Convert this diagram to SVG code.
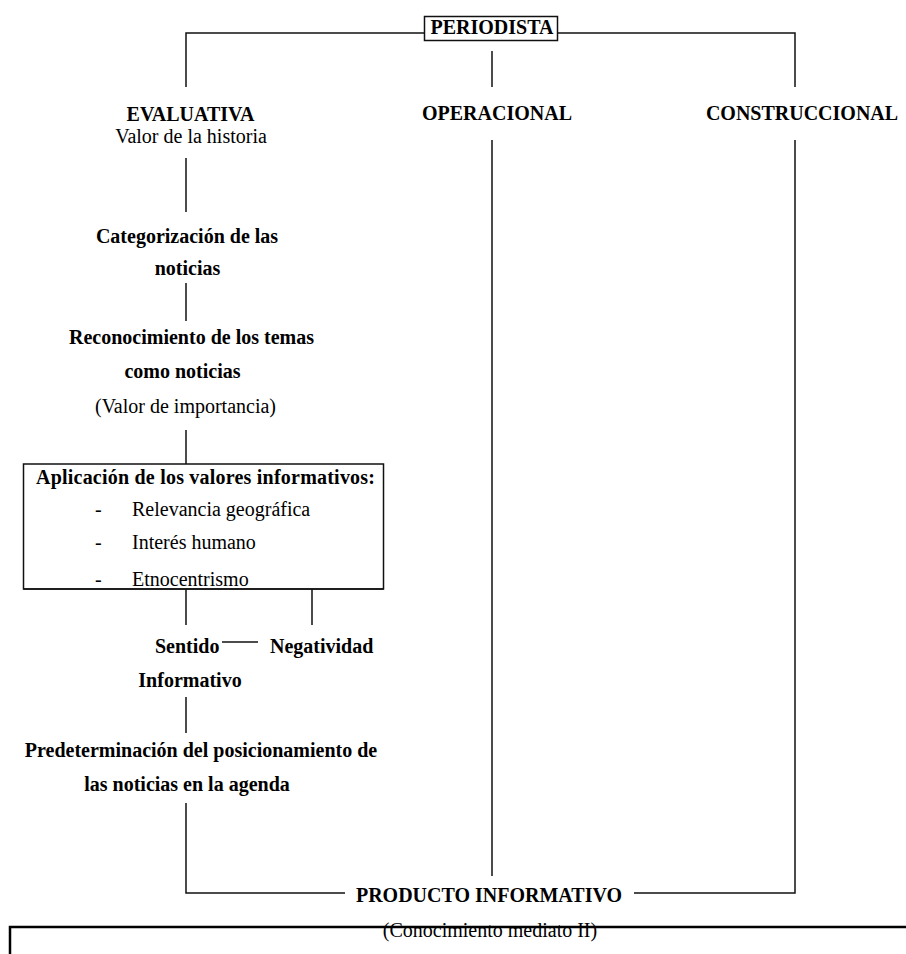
<svg xmlns="http://www.w3.org/2000/svg" width="906" height="954" viewBox="0 0 906 954">
<style>
text{font-family:"Liberation Serif","Times New Roman",serif;font-size:20px;fill:#000}
.b{font-weight:bold}
.m{text-anchor:middle}
.ln{stroke:#111;stroke-width:1.5;fill:none}
.bx{stroke:#111;stroke-width:1.5;fill:#fff}
</style>
<rect width="906" height="954" fill="#fff"/>
<g id="connectors" class="ln">
<path d="M186,87 V33 H424 M557,33 H795 V87"/>
<path d="M492,51 V87"/>
<path d="M186,158 V212"/>
<path d="M186,283 V321"/>
<path d="M186,430 V464"/>
<path d="M186,589 V625 M312,589 V625"/>
<path d="M222,642 H258"/>
<path d="M186,697 V733"/>
<path d="M186,803 V893 H345 M634,893 H795 V140"/>
<path d="M492,140 V876"/>
</g>
<g id="periodista">
<rect class="bx" x="424.5" y="16.5" width="133" height="24"/>
<text class="b m" x="492" y="34">PERIODISTA</text>
</g>
<g id="evaluativa">
<text class="b m" x="190.5" y="121">EVALUATIVA</text>
<text class="m" x="191" y="143">Valor de la historia</text>
</g>
<g id="operacional"><text class="b m" x="497" y="120">OPERACIONAL</text></g>
<g id="construccional"><text class="b m" x="802" y="120">CONSTRUCCIONAL</text></g>
<g id="categorizacion">
<text class="b m" x="187" y="243">Categorización de las</text>
<text class="b m" x="187.5" y="275">noticias</text>
</g>
<g id="reconocimiento">
<text class="b m" x="191.5" y="344">Reconocimiento de los temas</text>
<text class="b m" x="182.5" y="378">como noticias</text>
<text class="m" x="185.5" y="413">(Valor de importancia)</text>
</g>
<g id="aplicacion">
<rect class="bx" x="23.5" y="464" width="360" height="125"/>
<text class="b" x="36" y="484" textLength="339">Aplicación de los valores informativos:</text>
<text x="95" y="516">-</text><text x="132" y="516">Relevancia geográfica</text>
<text x="95" y="549">-</text><text x="132" y="549">Interés humano</text>
<text x="95" y="586">-</text><text x="132" y="586">Etnocentrismo</text>
<path d="M23.5,589 H383.5" class="ln"/>
</g>
<g id="sentido">
<text class="b" x="155" y="653">Sentido</text>
<text class="b m" x="190" y="687">Informativo</text>
</g>
<g id="negatividad"><text class="b" x="270" y="653">Negatividad</text></g>
<g id="predeterminacion">
<text class="b m" x="201" y="757">Predeterminación del posicionamiento de</text>
<text class="b m" x="187" y="791">las noticias en la agenda</text>
</g>
<g id="producto">
<text class="b m" x="489" y="902">PRODUCTO INFORMATIVO</text>
</g>
<g id="conocimiento">
<path d="M10,954 V927 H906" stroke="#000" stroke-width="2.5" fill="none"/>
<text class="m" x="490" y="937">(Conocimiento mediato II)</text>
</g>
</svg>
